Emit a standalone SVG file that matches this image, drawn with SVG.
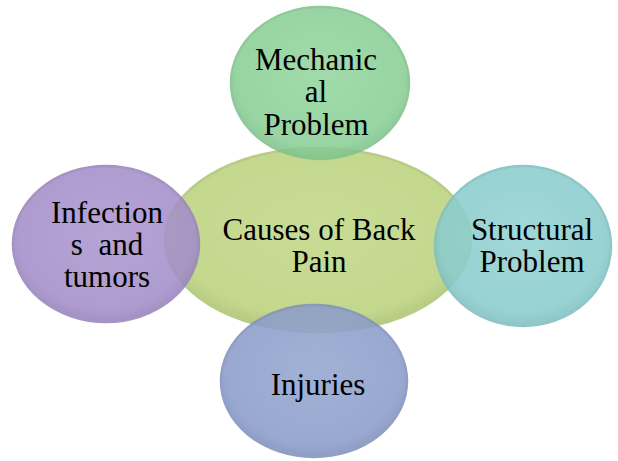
<svg xmlns="http://www.w3.org/2000/svg" width="618" height="461" viewBox="0 0 618 461">
<style>
.t{font-family:"Liberation Serif","Times New Roman",serif;font-size:31px;fill:#000;text-anchor:middle}
.n{stroke-width:2.5}
</style>
<defs>
<radialGradient id="gC" cx="50%" cy="45%" r="55%">
<stop offset="0" stop-color="#c9dc95"/><stop offset="0.85" stop-color="#c3d78d"/><stop offset="1" stop-color="#b5ca80"/>
</radialGradient>
<radialGradient id="gT" cx="50%" cy="45%" r="55%">
<stop offset="0" stop-color="#94d69f"/><stop offset="0.85" stop-color="#8bcf97"/><stop offset="1" stop-color="#7fc28b"/>
</radialGradient>
<radialGradient id="gL" cx="50%" cy="45%" r="55%">
<stop offset="0" stop-color="#ac98d0"/><stop offset="0.85" stop-color="#a48ec9"/><stop offset="1" stop-color="#9782bc"/>
</radialGradient>
<radialGradient id="gR" cx="50%" cy="45%" r="55%">
<stop offset="0" stop-color="#94d3d4"/><stop offset="0.85" stop-color="#8bcccd"/><stop offset="1" stop-color="#7fbfc0"/>
</radialGradient>
<radialGradient id="gB" cx="50%" cy="45%" r="55%">
<stop offset="0" stop-color="#95a6d1"/><stop offset="0.85" stop-color="#8c9dca"/><stop offset="1" stop-color="#8090bd"/>
</radialGradient>
</defs>
<rect width="618" height="461" fill="#fff"/>
<g id="connectors"></g>
<g id="center">
<ellipse class="n" cx="318" cy="240" rx="153" ry="92" fill="url(#gC)" stroke="#b8cc85"/>
<text class="t" x="319" y="240">Causes of Back</text>
<text class="t" x="319" y="272">Pain</text>
</g>
<g id="mechanical" opacity="0.88">
<ellipse class="n" cx="320" cy="83" rx="89" ry="76" fill="url(#gT)" stroke="#80c28c"/>
</g>
<g id="infections" opacity="0.88">
<ellipse class="n" cx="106" cy="244" rx="93" ry="78" fill="url(#gL)" stroke="#9985bd"/>
</g>
<g id="structural" opacity="0.88">
<ellipse class="n" cx="523" cy="246" rx="88" ry="80" fill="url(#gR)" stroke="#80c0c1"/>
</g>
<g id="injuries" opacity="0.88">
<ellipse class="n" cx="314" cy="381" rx="93" ry="76" fill="url(#gB)" stroke="#8292bd"/>
</g>
<g id="labels">
<text class="t" x="316" y="70">Mechanic</text>
<text class="t" x="316" y="102">al</text>
<text class="t" x="316" y="135">Problem</text>
<text class="t" x="107" y="223">Infection</text>
<text class="t" x="107" y="255" style="white-space:pre" xml:space="preserve">s  and</text>
<text class="t" x="107" y="287">tumors</text>
<text class="t" x="532" y="240">Structural</text>
<text class="t" x="532" y="272">Problem</text>
<text class="t" x="318" y="395">Injuries</text>
</g>
</svg>
